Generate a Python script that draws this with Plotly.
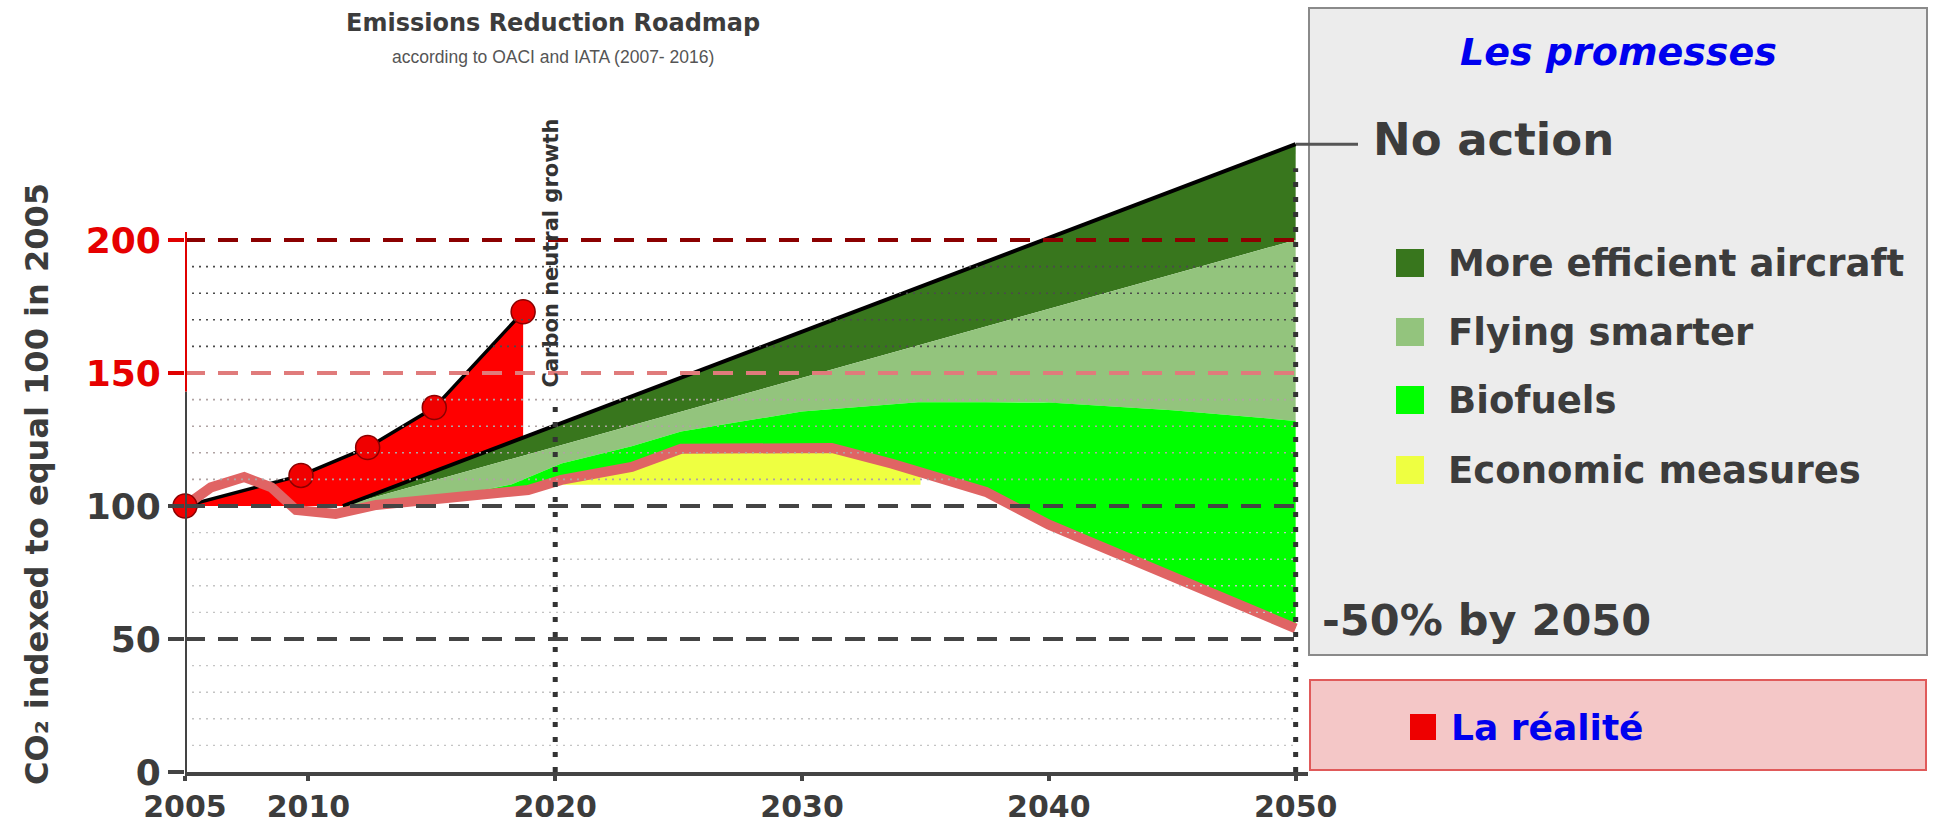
import numpy as np
import plotly.graph_objects as go

# ---------------- data ----------------
x_ticks = [2005, 2010, 2020, 2030, 2040, 2050]
x_tick_labels = ["2005", "2010", "2020", "2030", "2040", "2050"]
y_ticks_low = [0, 50, 100]
y_ticks_high = [150, 200]

# "La réalité" : measured emissions (red area + black line + dots)
reality_years = [2005, 2009.7, 2012.4, 2015.1, 2018.7]
reality_vals = [100, 111.5, 122, 137, 173]

# "No action" scenario (black line)
noaction_years = [2011.4, 2050]
noaction_vals = [100, 236]

# lower limit of "More efficient aircraft"
aircraft_years = [2011.4, 2050]
aircraft_vals = [100, 200]

# lower limit of "Flying smarter" = top of "Biofuels"
biofuel_years = [2011.4, 2016, 2018.2, 2020.25, 2023.1, 2025.1, 2030, 2034.7, 2039.8, 2045, 2050]
biofuel_vals = [100, 104, 108, 116, 122.5, 128, 135.5, 139, 139, 136, 132]

# target path (thick salmon line), ending at -50 % by 2050
target_years = [2005, 2006.05, 2007.4, 2008.5, 2009.5, 2011.1, 2012.75, 2016.1, 2018.9,
                2020.25, 2023.1, 2025.1, 2030.5, 2031.2, 2033.65, 2037.45, 2040, 2045, 2050]
target_vals = [100, 107, 110.9, 107, 98.5, 97, 100.4, 103.4, 106,
               109.8, 114.7, 121.5, 122.2, 121.8, 115.9, 105.3, 93, 73.3, 54]

# "Economic measures" band (yellow)
econ_years = [2020, 2034.8]
econ_floor = 108

# reference lines
dashed_levels = [50, 100, 150, 200]
dotted_levels = [10, 20, 30, 40, 60, 70, 80, 90, 110, 120, 130, 140, 160, 170, 180, 190]
carbon_neutral_year = 2020
carbon_neutral_top = 140
end_year = 2050
end_top = 227

legend_items = ["More efficient aircraft", "Flying smarter", "Biofuels", "Economic measures"]

# ---------------- styling ----------------
C_DARK = "#38761d"
C_LIGHT = "#93c47d"
C_BIO = "#00ff00"
C_ECO = "#eeff41"
C_RED = "#ff0000"
C_PINK = "#e06464"
C_TEXT = "#3c3c3c"
C_BLUE = "#0000ee"
FONT = "DejaVu Sans"

W, H = 1936, 830
L, R, T, B = 185, 628, 107, 58
PW, PH = W - L - R, H - T - B
XR = [2005, 2050.5]
YR = [0, 250]


def px(x):
    return (x - L) / PW


def py(y):
    return (H - B - y) / PH


fig = go.Figure()

# dark green : between no-action and aircraft line
fig.add_trace(go.Scatter(
    x=noaction_years + aircraft_years[::-1],
    y=noaction_vals + aircraft_vals[::-1],
    fill="toself", fillcolor=C_DARK, line=dict(width=0), mode="lines",
    hoverinfo="skip", showlegend=False))

# light green : between aircraft line and biofuel top
air_at_bio = np.interp(biofuel_years, aircraft_years, aircraft_vals)
fig.add_trace(go.Scatter(
    x=list(biofuel_years) + list(biofuel_years[::-1]),
    y=list(air_at_bio) + list(biofuel_vals[::-1]),
    fill="toself", fillcolor=C_LIGHT, line=dict(width=0), mode="lines",
    hoverinfo="skip", showlegend=False))

# bright green : between biofuel top and target line
yrs = sorted(set(biofuel_years) | {y for y in target_years if y >= biofuel_years[0]})
top = np.interp(yrs, biofuel_years, biofuel_vals)
bot = np.interp(yrs, target_years, target_vals)
bot = np.minimum(bot, top)
fig.add_trace(go.Scatter(
    x=list(yrs) + list(yrs[::-1]),
    y=list(top) + list(bot[::-1]),
    fill="toself", fillcolor=C_BIO, line=dict(width=0), mode="lines",
    hoverinfo="skip", showlegend=False))

# yellow : economic measures, under the target line
eyrs = [econ_years[0]] + [y for y in target_years if econ_years[0] < y < econ_years[1]] + [econ_years[1]]
etop = np.interp(eyrs, target_years, target_vals)
fig.add_trace(go.Scatter(
    x=eyrs + eyrs[::-1],
    y=list(etop) + [econ_floor] * len(eyrs),
    fill="toself", fillcolor=C_ECO, line=dict(width=0), mode="lines",
    hoverinfo="skip", showlegend=False))

# red area : reality above the no-action path
na_end = float(np.interp(reality_years[-1], noaction_years, noaction_vals))
fig.add_trace(go.Scatter(
    x=reality_years + [reality_years[-1], noaction_years[0], reality_years[0]],
    y=reality_vals + [na_end, noaction_vals[0], reality_vals[0]],
    fill="toself", fillcolor=C_RED, line=dict(width=0), mode="lines",
    hoverinfo="skip", showlegend=False))

# no-action line
fig.add_trace(go.Scatter(x=noaction_years, y=noaction_vals, mode="lines",
                         line=dict(color="#000", width=4), showlegend=False, hoverinfo="skip"))
# reality line
fig.add_trace(go.Scatter(x=reality_years, y=reality_vals, mode="lines",
                         line=dict(color="#000", width=3.5), showlegend=False, hoverinfo="skip"))
# target line
fig.add_trace(go.Scatter(x=target_years, y=target_vals, mode="lines",
                         line=dict(color=C_PINK, width=10, shape="linear"),
                         showlegend=False, hoverinfo="skip"))
# reality dots
fig.add_trace(go.Scatter(x=reality_years, y=reality_vals, mode="markers",
                         marker=dict(color="#f00000", size=24, line=dict(color="#8b0000", width=1.5)),
                         cliponaxis=False, showlegend=False, hoverinfo="skip"))

# 150 / 200 dashed lines on the red secondary axis
for lvl, col in zip(y_ticks_high, ["#e07b7b", "#8b0000"]):
    fig.add_trace(go.Scatter(x=[XR[0], end_year], y=[lvl, lvl], yaxis="y2", mode="lines",
                             line=dict(color=col, width=4, dash="20px,13px"),
                             showlegend=False, hoverinfo="skip"))

shapes = []
# dotted grid
for lvl in dotted_levels:
    if lvl > 150:
        col, w = "#4a4a4a", 1.6
    elif lvl > 100:
        col, w = "#b0a3a3", 1.6
    else:
        col, w = "#c4c4c4", 1.4
    shapes.append(dict(type="line", xref="x", yref="y", x0=XR[0], x1=end_year, y0=lvl, y1=lvl,
                       line=dict(color=col, width=w, dash="2px,5px")))
# 100 and 50 dashed lines
for lvl in [l for l in dashed_levels if l <= 100]:
    shapes.append(dict(type="line", xref="x", yref="y", x0=XR[0], x1=end_year, y0=lvl, y1=lvl,
                       line=dict(color="#444", width=4, dash="20px,13px")))
# vertical dotted lines
shapes.append(dict(type="line", xref="x", yref="y", x0=carbon_neutral_year, x1=carbon_neutral_year,
                   y0=0, y1=carbon_neutral_top, line=dict(color="#333", width=5, dash="5px,10px")))
shapes.append(dict(type="line", xref="x", yref="y", x0=end_year, x1=end_year,
                   y0=0, y1=end_top, line=dict(color="#333", width=5, dash="5px,10px")))
# y axis line (grey then red)
shapes.append(dict(type="line", xref="x", yref="y", x0=XR[0], x1=XR[0], y0=0, y1=143,
                   line=dict(color="#444", width=4)))
shapes.append(dict(type="line", xref="x", yref="y", x0=XR[0], x1=XR[0], y0=143, y1=203,
                   line=dict(color="#e00000", width=4)))

# right-hand panels
shapes.append(dict(type="rect", xref="paper", yref="paper", x0=px(1309), x1=px(1927),
                   y0=py(655), y1=py(8), fillcolor="#ececec",
                   line=dict(color="#8a8a8a", width=2), layer="below"))
shapes.append(dict(type="rect", xref="paper", yref="paper", x0=px(1310), x1=px(1926),
                   y0=py(770), y1=py(680), fillcolor="#f4c7c7",
                   line=dict(color="#e05a5a", width=2), layer="below"))
# connector from no-action end to its label
shapes.append(dict(type="line", xref="paper", yref="paper", x0=px(1296), x1=px(1358),
                   y0=noaction_vals[-1] / YR[1], y1=noaction_vals[-1] / YR[1],
                   line=dict(color="#555", width=3)))

annotations = []
# legend
leg_colors = [C_DARK, C_LIGHT, C_BIO, C_ECO]
leg_y = [263, 332, 400, 470]
sq = 28
for name, col, yy in zip(legend_items, leg_colors, leg_y):
    shapes.append(dict(type="rect", xref="paper", yref="paper",
                       x0=px(1396), x1=px(1396 + sq), y0=py(yy + sq / 2), y1=py(yy - sq / 2),
                       fillcolor=col, line=dict(width=0)))
    annotations.append(dict(text=f"<b>{name}</b>", xref="paper", yref="paper", x=px(1446), y=py(yy),
                            xanchor="left", yanchor="middle", showarrow=False,
                            font=dict(family=FONT, size=37, color=C_TEXT)))
shapes.append(dict(type="rect", xref="paper", yref="paper",
                   x0=px(1410), x1=px(1410 + 26), y0=py(727 + 13), y1=py(727 - 13),
                   fillcolor="#ee0000", line=dict(width=0)))
annotations.append(dict(text="<b>La réalité</b>", xref="paper", yref="paper", x=px(1449), y=py(727),
                        xanchor="left", yanchor="middle", showarrow=False,
                        font=dict(family=FONT, size=36, color=C_BLUE)))
annotations.append(dict(text="<b><i>Les promesses</i></b>", xref="paper", yref="paper", x=px(1618), y=py(52),
                        xanchor="center", yanchor="middle", showarrow=False,
                        font=dict(family=FONT, size=38, color=C_BLUE)))
annotations.append(dict(text="<b>No action</b>", xref="paper", yref="paper", x=px(1371), y=py(140),
                        xanchor="left", yanchor="middle", showarrow=False,
                        font=dict(family=FONT, size=45, color=C_TEXT)))
annotations.append(dict(text="<b>-50% by 2050</b>", xref="paper", yref="paper", x=px(1320), y=py(620),
                        xanchor="left", yanchor="middle", showarrow=False,
                        font=dict(family=FONT, size=43, color=C_TEXT)))
# titles
annotations.append(dict(text="<b>Emissions Reduction Roadmap</b>", xref="paper", yref="paper",
                        x=px(553), y=py(23), xanchor="center", yanchor="middle", showarrow=False,
                        font=dict(family=FONT, size=24, color=C_TEXT)))
annotations.append(dict(text="according to OACI and IATA (2007- 2016)", xref="paper", yref="paper",
                        x=px(553), y=py(57), xanchor="center", yanchor="middle", showarrow=False,
                        font=dict(family="Liberation Sans", size=17.5, color="#555")))
annotations.append(dict(text="<b>CO₂ indexed to equal 100 in 2005</b>", xref="paper", yref="paper",
                        x=px(37), y=py(484), xanchor="center", yanchor="middle", textangle=-90,
                        showarrow=False, font=dict(family=FONT, size=32, color=C_TEXT)))
annotations.append(dict(text="<b>Carbon neutral growth</b>", xref="x", yref="y",
                        x=carbon_neutral_year, y=195, xanchor="center", yanchor="middle", xshift=-4,
                        textangle=-90, showarrow=False, font=dict(family=FONT, size=21, color="#333")))

fig.update_layout(
    width=W, height=H,
    margin=dict(l=L, r=R, t=T, b=B, autoexpand=False),
    paper_bgcolor="white", plot_bgcolor="white",
    showlegend=False,
    shapes=shapes, annotations=annotations,
    xaxis=dict(range=XR, tickvals=x_ticks, ticktext=x_tick_labels, showgrid=False, zeroline=False,
               showline=True, linecolor="#444", linewidth=4, ticks="outside", ticklen=5,
               tickwidth=4, tickcolor="#444", automargin=False,
               tickfont=dict(family=FONT, size=30, color=C_TEXT, weight="bold")),
    yaxis=dict(range=YR, tickvals=y_ticks_low, ticktext=[str(v) for v in y_ticks_low],
               showgrid=False, zeroline=False, showline=False, ticks="outside", ticklen=16,
               tickwidth=4, tickcolor="#444", automargin=False,
               tickfont=dict(family=FONT, size=36, color=C_TEXT, weight="bold")),
    yaxis2=dict(range=YR, overlaying="y", side="left", anchor="x", tickvals=y_ticks_high,
                ticktext=[str(v) for v in y_ticks_high], showgrid=False, zeroline=False,
                showline=False, ticks="outside", ticklen=16, tickwidth=4, tickcolor="#e00000",
                automargin=False,
                tickfont=dict(family=FONT, size=36, color="#e60000", weight="bold")),
)

fig.write_html("out.html", config={"displayModeBar": False},
               post_script="document.body.style.margin='0';document.body.style.overflow='hidden';")
